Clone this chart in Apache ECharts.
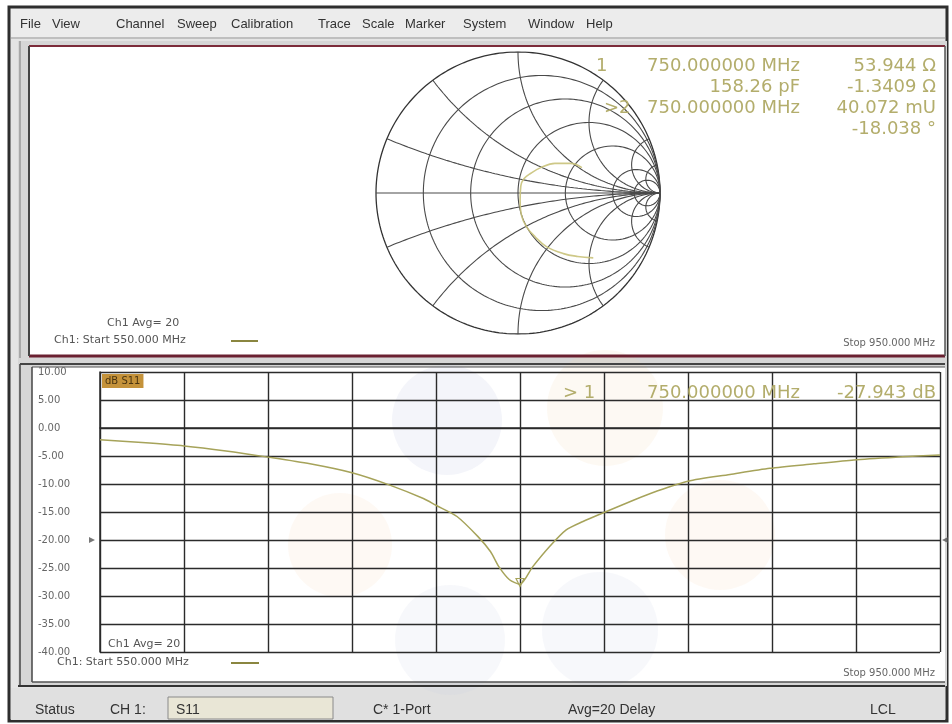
<!DOCTYPE html>
<html><head><meta charset="utf-8">
<script src="https://cdn.jsdelivr.net/npm/echarts@6/dist/echarts.min.js"></script>
<style>html,body{margin:0;padding:0;background:#fff}#c{width:952px;height:724px}</style>
</head><body><div id="c"></div>
<script>
// ---------- data ----------
const menuItems = ['File','View','Channel','Sweep','Calibration','Trace','Scale','Marker','System','Window','Help'];
const menuX = [20,52,116,177,231,318,362,405,463,528,586];

// Lower panel: S11 log magnitude (dB) vs frequency (MHz)
const freqMHz = [550,570,590,610,630,650,670,688,704,710,720,730,736,740,745,750,756,764,772,780,788,804,815,830,850,869,890,909,930,950];
const s11dB   = [-2.1,-2.6,-3.2,-4.1,-5.2,-6.4,-8.0,-10.2,-12.6,-13.8,-15.8,-19.4,-22.1,-24.8,-27.1,-27.9,-24.8,-21.2,-18.2,-16.7,-15.4,-12.9,-11.3,-9.5,-8.3,-7.2,-6.4,-5.7,-5.2,-4.8];
const dbAxisMin = -40, dbAxisMax = 10, dbAxisStep = 5;
const freqStart = 550, freqStop = 950, freqStep = 40;
const refLevelDb = -20;

// Upper panel: Smith chart grid values and trace (reflection coefficient)
const smithResistances = [0.2, 0.5, 1, 2, 5, 10];
const smithReactances  = [0.2, 0.5, 1, 2, 5, 10];
const smithTraceRe = [0.53,0.42,0.32,0.20,0.12,0.06,0.025,0.015,0.02,0.04,0.09,0.16,0.26,0.37,0.45];
const smithTraceIm = [-0.46,-0.45,-0.43,-0.38,-0.31,-0.24,-0.16,-0.05,0.05,0.10,0.14,0.18,0.21,0.21,0.18];

// Marker readouts
const smithMarkerIds  = ['1', '', '>2', ''];
const smithMarkerStim = ['750.000000 MHz', '158.26 pF', '750.000000 MHz', ''];
const smithMarkerVals = ['53.944 Ω', '-1.3409 Ω', '40.072 mU', '-18.038 °'];
const logMarkerId = '> 1', logMarkerStim = '750.000000 MHz', logMarkerVal = '-27.943 dB';
const statusItems = ['Status', 'CH 1:', 'S11', 'C* 1-Port', 'Avg=20 Delay', 'LCL'];
const statusX = [35, 110, 176, 373, 568, 870];

// ---------- build ----------
const chart = echarts.init(document.getElementById('c'), null, {renderer:'canvas'});
const TRACE = '#a6a35a';
const READ = '#b3ad6c';
const GRIDC = '#4a4a4a';

function gam(r, x){ const d=(r+1)*(r+1)+x*x; return [(r*r+x*x-1)/d, 2*x/d]; }
const smithSeries = [];
function addSmith(pts, w, c){
  smithSeries.push({type:'line', xAxisIndex:1, yAxisIndex:1, data:pts, showSymbol:false, silent:true,
    lineStyle:{color:c||GRIDC, width:w||1}, animation:false, z:1});
}
const N=240;
[0].concat(smithResistances).forEach(r=>{
  const pts=[];
  for(let i=0;i<=N;i++){ const t=-Math.PI/2+0.001+(Math.PI-0.002)*i/N; pts.push(gam(r, Math.tan(t))); }
  addSmith(pts, r===0?1.3:1.1, r===0?'#333':GRIDC);
});
smithReactances.forEach(x=>{
  [x,-x].forEach(xx=>{
    const pts=[];
    for(let i=0;i<=N;i++){ const t=(Math.PI/2-0.001)*i/N; pts.push(gam(Math.tan(t), xx)); }
    addSmith(pts, 1.1);
  });
});
addSmith([[-1,0],[1,0]], 1.1);
smithSeries.push({type:'line', xAxisIndex:1, yAxisIndex:1, showSymbol:false, silent:true, smooth:0.4,
  data: smithTraceRe.map((v,i)=>[v, smithTraceIm[i]]), lineStyle:{color:'#c9c27a', width:1.6, opacity:0.9}, animation:false, z:3});

const font = (s, f) => s + 'px ' + (f || '"DejaVu Sans"');
const g = [];
function rect(x,y,w,h,fill,stroke,lw,z){ g.push({type:'rect', z:z===undefined?-20:z, silent:true, shape:{x,y,width:w,height:h}, style:{fill:fill||'none', stroke:stroke||null, lineWidth:lw||0}}); }
function line(x1,y1,x2,y2,c,w,z){ g.push({type:'line', z:z===undefined?-5:z, silent:true, shape:{x1,y1,x2,y2}, style:{stroke:c, lineWidth:w}}); }
function text(t,x,y,size,color,align,fam,z){ g.push({type:'text', z:z===undefined?50:z, silent:true, x, y, style:{text:t, fill:color, font:font(size,fam), textAlign:align||'left', textVerticalAlign:'middle', align:align||'left', verticalAlign:'middle'}}); }
function circ(cx,cy,r,c){ g.push({type:'circle', z:-8, silent:true, shape:{cx,cy,r}, style:{fill:c}}); }

// window
rect(0,0,952,724,'#ffffff');
rect(9,7,938,714,'#e4e4e4','#2e2e2e',3);
// menu
rect(11,9,934,28,'#ececec');
line(11,38,945,38,'#9a9a9a',1);
menuItems.forEach((m,i)=>text(m, menuX[i], 24, 13, '#333', 'left', '"Liberation Sans"'));
// upper panel
rect(18,41,929,320,'#d6d6d6');
rect(29,46,916,310,'#ffffff');
line(29,46,945,46,'#7c2c3a',2);
line(29,356,945,356,'#6a2030',3);
line(29,46,29,356,'#444',2);
line(945,46,945,356,'#555',1.5);
line(20,41,20,358,'#999',1.5);
// lower panel
rect(18,361,929,325,'#d6d6d6');
rect(32,367,913,315,'#ffffff');
line(20,364,945,364,'#444',2);
line(32,367,945,367,'#555',1.2);
line(20,364,20,686,'#444',1.5);
line(32,367,32,682,'#444',1.5);
line(32,682,945,682,'#555',1.5);
line(18,686,945,686,'#333',2);
// faint watermark from the photo
circ(447,420,55,'rgba(200,205,228,0.2)');
circ(605,408,58,'rgba(245,215,180,0.16)');
circ(340,545,52,'rgba(245,215,180,0.14)');
circ(720,535,55,'rgba(245,215,180,0.14)');
circ(450,640,55,'rgba(200,205,228,0.15)');
circ(600,630,58,'rgba(200,205,228,0.14)');
// status bar
rect(11,688,934,32,'#e0e0e0');
rect(168,697,165,22,'#e9e6d6','#8a8a8a',1,-15);
statusItems.forEach((s,i)=>text(s, statusX[i], 710, 14, '#333', 'left', '"Liberation Sans"'));

// upper panel texts
smithMarkerIds.forEach((s,i)=>{ if(s) text(s, i===0?596:604, 66+i*21, 18, READ, 'left'); });
smithMarkerStim.forEach((s,i)=>{ if(s) text(s, 800, 66+i*21, 18, READ, 'right'); });
smithMarkerVals.forEach((s,i)=>text(s, 936, 66+i*21, 18, READ, 'right'));
text('Ch1 Avg= 20', 107, 323, 11, '#555');
text('Ch1: Start 550.000 MHz', 54, 340, 11, '#555');
line(231,341,258,341,'#8a8640',2,50);
text('Stop 950.000 MHz', 935, 343, 10, '#666', 'right');

// lower panel texts
g.push({type:'text', z:60, silent:true, x:102, y:381, style:{text:'dB S11', fill:'#4a3410', font:font(10), backgroundColor:'#c4923a', padding:[2,3,2,3], textVerticalAlign:'middle', verticalAlign:'middle'}});
text(logMarkerId, 563, 393, 18, READ, 'left');
text(logMarkerStim, 800, 393, 18, READ, 'right');
text(logMarkerVal, 936, 393, 18, READ, 'right');
text('Ch1 Avg= 20', 108, 644, 11, '#555');
text('Ch1: Start 550.000 MHz', 57, 662, 11, '#555');
line(231,663,259,663,'#8a8640',2,50);
text('Stop 950.000 MHz', 935, 673, 10, '#666', 'right');

const option = {
  backgroundColor: '#ffffff',
  animation: false,
  graphic: {elements: g},
  grid: [
    {left:100, top:372, width:840, height:280, show:false},
    {left:376, top:52, width:284, height:282, show:false}
  ],
  xAxis: [
    {type:'value', gridIndex:0, min:freqStart, max:freqStop, interval:freqStep,
     axisLabel:{show:false}, axisTick:{show:false}, axisLine:{show:true, lineStyle:{color:'#2b2b2b', width:1.5}},
     splitLine:{show:true, lineStyle:{color:'#2b2b2b', width:1.4}}},
    {type:'value', gridIndex:1, min:-1, max:1, show:false, splitLine:{show:false}}
  ],
  yAxis: [
    {type:'value', gridIndex:0, min:dbAxisMin, max:dbAxisMax, interval:dbAxisStep,
     axisLabel:{formatter:v=>v.toFixed(2), align:'left', margin:62, color:'#666', fontSize:10, fontFamily:'DejaVu Sans'},
     axisTick:{show:false}, axisLine:{show:true, lineStyle:{color:'#2b2b2b', width:1.5}},
     splitLine:{show:true, lineStyle:{color:'#2b2b2b', width:1.4}}},
    {type:'value', gridIndex:1, min:-1, max:1, show:false, splitLine:{show:false}}
  ],
  series: [
    {type:'line', xAxisIndex:0, yAxisIndex:0, data:freqMHz.map((f,i)=>[f, s11dB[i]]), showSymbol:false, silent:true,
     smooth:0.25, lineStyle:{color:TRACE, width:1.5}, z:5,
     markPoint:{symbol:'triangle', symbolRotate:180, symbolSize:8, symbolOffset:[0,-2], silent:true,
       itemStyle:{color:'rgba(0,0,0,0)', borderColor:TRACE, borderWidth:1.2}, label:{show:false},
       data:[{coord:[750, -27.943]}]}},
    {type:'scatter', xAxisIndex:0, yAxisIndex:0, silent:true, symbol:'triangle', symbolRotate:-90, symbolSize:6,
     symbolOffset:[-8,0], itemStyle:{color:'#555'}, data:[[freqStart, refLevelDb]], z:6},
    {type:'scatter', xAxisIndex:0, yAxisIndex:0, silent:true, symbol:'triangle', symbolRotate:90, symbolSize:6,
     symbolOffset:[5,0], itemStyle:{color:'#555'}, data:[[freqStop, refLevelDb]], z:6}
  ].concat(smithSeries)
};
chart.setOption(option);
</script></body></html>
